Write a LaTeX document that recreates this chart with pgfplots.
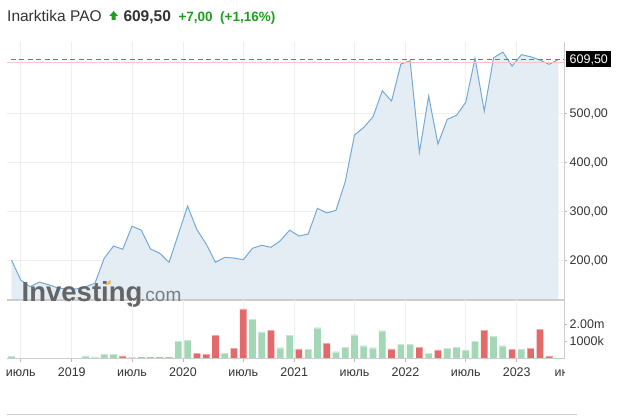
\documentclass[border=0pt]{standalone}
\usepackage{pgfplots}
\pgfplotsset{compat=1.18}
\usepackage{pgfplotstable}
\usepackage{fontspec}
\setmainfont{Liberation Sans}
\definecolor{lineblue}{HTML}{74A9D8}
\definecolor{areablue}{HTML}{E4EDF4}
\definecolor{vgreen}{HTML}{A3D7B5}
\definecolor{vgreencap}{HTML}{C9E9D4}
\definecolor{vred}{HTML}{E26A6A}
\definecolor{vredcap}{HTML}{F2A8A8}
\definecolor{gridc}{HTML}{EFEFEF}
\definecolor{axisc}{HTML}{CCCCCC}
\definecolor{tickc}{HTML}{BBBBBB}
\definecolor{labelc}{HTML}{333333}
\definecolor{upgreen}{HTML}{1E9E1E}
\definecolor{logoc}{HTML}{646567}
\definecolor{logoc2}{HTML}{7C7D7F}
\definecolor{logoor}{HTML}{F2B648}
\definecolor{pinkline}{HTML}{F8C6C6}
\definecolor{dashc}{HTML}{777777}

\pgfplotstableread{
i v
0 200
1 159
2 145.5
3 155
4 149.6
5 143
6 141
7 141
8 145.5
9 152.5
10 203.5
11 228.6
12 222
13 269
14 261
15 222.4
16 213.7
17 195.3
18 253
19 310
20 262
21 232.7
22 195.3
23 205.5
24 204
25 200.6
26 224
27 230
28 226
29 239.4
30 261
31 249
32 253
33 305.5
34 296
35 301.4
36 359.8
37 455
38 470.8
39 492.4
40 545.5
41 524.5
42 600
43 606.7
44 419.8
45 534.7
46 436.7
47 487
48 495.3
49 521.8
50 611.6
51 504
52 612.9
53 624.5
54 595.9
55 619
56 614.9
57 608.2
58 599.4
59 609.5
}\price

\pgfplotstableread{
i v
0 0.12
8 0.15
9 0.1
10 0.25
11 0.25
13 0.08
18 1.0
19 1.07
23 0.3
26 2.3
27 1.55
29 0.63
30 1.35
32 0.53
33 1.8
35 0.4
36 0.67
37 1.4
38 0.76
39 0.63
40 1.63
42 0.82
43 0.82
45 0.3
47 0.6
48 0.65
49 0.51
50 1.0
52 1.3
53 0.75
55 0.53
}\volup

\pgfplotstableread{
i v
12 0.15
14 0.08
15 0.08
16 0.08
17 0.08
20 0.3
21 0.24
22 1.35
24 0.6
25 2.9
28 1.65
31 0.57
34 0.88
41 0.57
44 0.67
46 0.51
51 1.65
54 0.53
56 0.6
57 1.7
58 0.15
}\voldown

\newcommand{\lbl}{\fontsize{12.5bp}{14bp}\selectfont}

\begin{document}
\begin{tikzpicture}[x=1bp,y=1bp]
\useasboundingbox (0,0) rectangle (622,416);

% ---------- price panel ----------
\begin{axis}[
  at={(7bp,116bp)}, anchor=south west, scale only axis,
  width=557bp, height=258bp,
  xmin=-0.485, xmax=59.6, ymin=118.4, ymax=645,
  axis line style={draw=none},
  xtick={1,6.5,13,18.5,25,30.5,37,42.5,49,54.5}, xticklabels={},
  xmajorgrids, ymajorgrids,
  grid style={color=gridc, line width=0.6bp},
  ytick={200,300,400,500},
  yticklabels={{200,00},{300,00},{400,00},{500,00}},
  ytick pos=right, yticklabel pos=right,
  tick align=outside, major tick length=3bp,
  xtick style={draw=none},
  ytick style={color=tickc, line width=0.6bp},
  yticklabel style={anchor=west, inner sep=0pt, text height=9bp, text depth=0bp,
    font=\lbl, text=labelc, xshift=2.5bp},
  clip mode=individual,
]
\addplot[draw=none, fill=areablue] table[x=i, y=v] {\price} \closedcycle;
\addplot[lineblue, line width=1bp] table[x=i, y=v] {\price};
\addplot[pinkline, line width=1bp] coordinates {(-1,602.5) (61,602.5)};
\addplot[dashc, line width=1.2bp, dash pattern=on 5bp off 3.5bp] coordinates {(-1,609.5) (61,609.5)};
\draw[axisc, line width=0.8bp] (rel axis cs:1,0) -- (rel axis cs:1,1);
\draw[axisc, line width=1.2bp] (rel axis cs:0,0) -- (rel axis cs:1,0);
\node[fill=black, text=white, font=\lbl, inner xsep=3.5bp, inner ysep=0pt,
  minimum height=16bp, text height=9bp, text depth=0bp, anchor=west]
  at ([xshift=2bp]axis cs:59.6,609.5) {609,50};
\end{axis}

% ---------- logo ----------
\node[anchor=base west, inner sep=0pt, text=logoc]
  at (21.5,115) {\fontsize{27.5bp}{29bp}\selectfont\bfseries Investing};
\node[anchor=base west, inner sep=0pt, text=logoc2]
  at (140,115) {\fontsize{19bp}{22bp}\selectfont .com};
\fill[logoor] (105,131) -- (110.5,136.5) -- (110.5,132) -- (105.5,131) -- cycle;

% ---------- volume panel ----------
\begin{axis}[
  at={(7bp,57.5bp)}, anchor=south west, scale only axis,
  width=557bp, height=58.5bp,
  xmin=-0.485, xmax=59.6, ymin=0, ymax=3.42,
  axis line style={draw=none},
  ybar, bar shift=0pt, bar width=6.7bp,
  xtick={1,6.5,13,18.5,25,30.5,37,42.5,49,54.5},
  xticklabels={июль,2019,июль,2020,июль,2021,июль,2022,июль,2023},
  xmajorgrids, grid style={color=gridc, line width=0.6bp},
  ytick={1,2}, yticklabels={1000k,2.00m},
  ytick pos=right, yticklabel pos=right, xtick pos=bottom,
  tick align=outside, major tick length=3bp,
  tick style={color=tickc, line width=0.6bp},
  yticklabel style={anchor=west, inner sep=0pt, text height=9bp, text depth=0bp,
    font=\lbl, text=labelc, xshift=2.5bp},
  xticklabel style={anchor=base, inner sep=0pt, font=\lbl, text=labelc, yshift=-15bp},
  clip mode=individual,
]
\addplot[fill=vgreen, draw=none] table[x=i, y=v] {\volup};
\addplot[fill=vred, draw=none] table[x=i, y=v] {\voldown};
\addplot[only marks, mark=-, mark size=3.35bp, vgreencap, mark options={line width=1bp, yshift=-0.5bp}] table[x=i, y=v] {\volup};
\addplot[only marks, mark=-, mark size=3.35bp, vredcap, mark options={line width=1bp, yshift=-0.5bp}] table[x=i, y=v] {\voldown};
\draw[axisc, line width=0.8bp] (rel axis cs:1,0) -- (rel axis cs:1,1);
\draw[axisc, line width=1bp] (rel axis cs:0,0) -- (rel axis cs:1,0);
\end{axis}

% clipped last month label
\begin{scope}
\clip (540,30) rectangle (564,50);
\node[anchor=base, inner sep=0pt, font=\lbl, text=labelc] at (569.5,39.3) {июль};
\end{scope}

% navigator line
\draw[axisc, line width=0.8bp] (7,1.7) -- (577,1.7);

% ---------- title ----------
\node[anchor=base west, inner sep=0pt, text=labelc] at (7,394)
  {\fontsize{15.5bp}{18bp}\selectfont Inarktika PAO};
\fill[upgreen] (109.3,400) -- (113.65,405) -- (118,400) -- (115.7,400) -- (115.7,396) -- (111.6,396) -- (111.6,400) -- cycle;
\node[anchor=base west, inner sep=0pt, text=labelc] at (123.3,394)
  {\fontsize{15.5bp}{18bp}\selectfont\bfseries 609,50};
\node[anchor=base west, inner sep=0pt, text=upgreen] at (178.3,394)
  {\fontsize{13.5bp}{16bp}\selectfont\bfseries +7,00};
\node[anchor=base west, inner sep=0pt, text=upgreen] at (220,394)
  {\fontsize{13.5bp}{16bp}\selectfont\bfseries (+1,16\%)};
\end{tikzpicture}
\end{document}
